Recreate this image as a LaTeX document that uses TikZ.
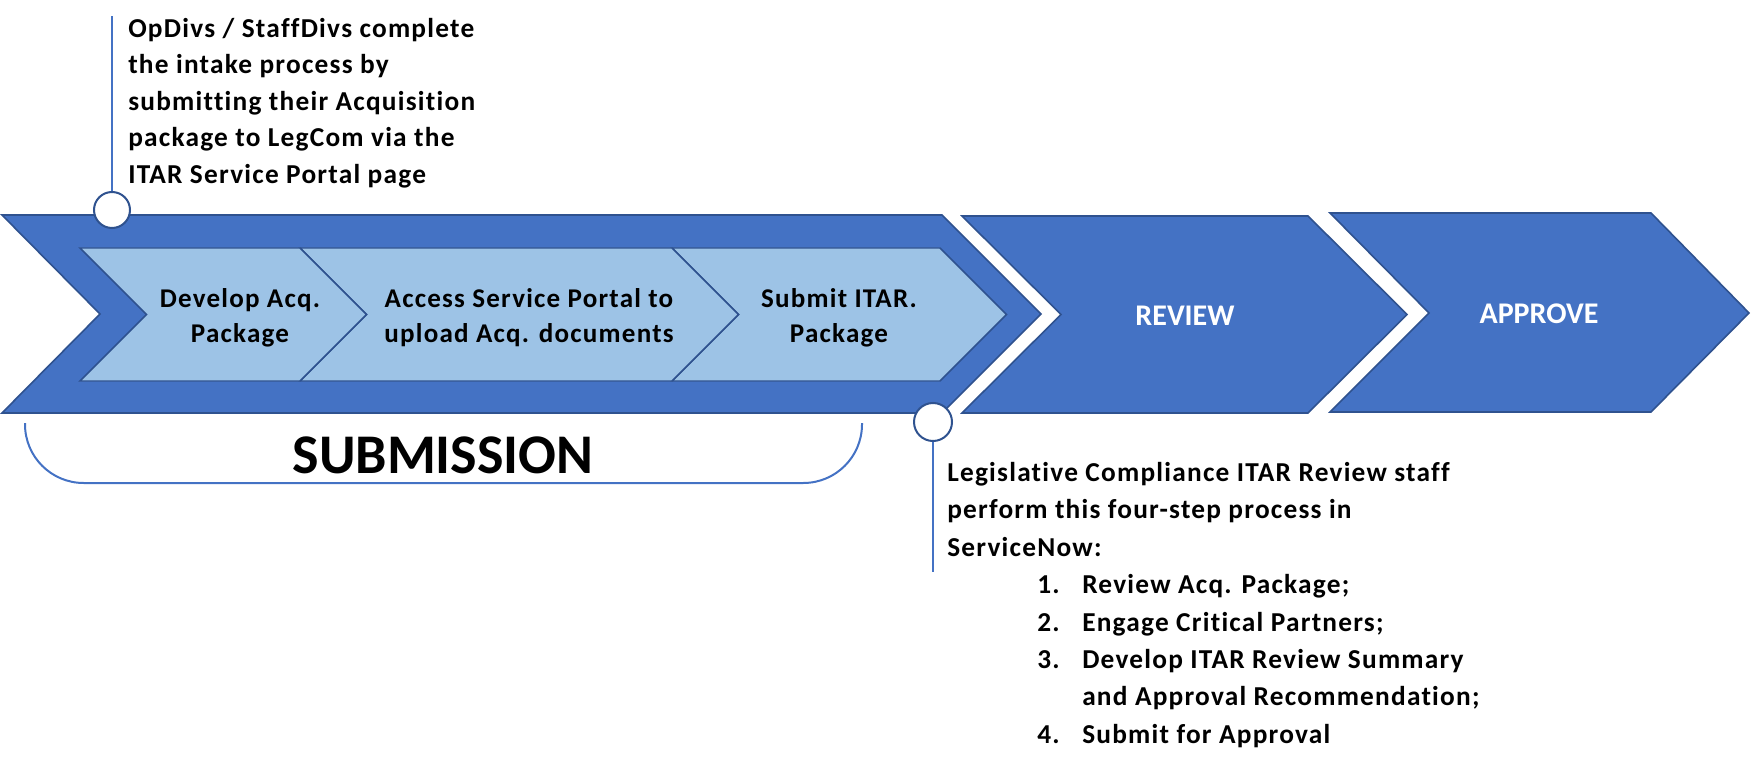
\documentclass[tikz,border=0pt]{standalone}
\usepackage{fontspec}
\setmainfont{Carlito}[Ligatures=NoCommon]
\newfontfamily\spacedfont{Carlito}[Ligatures=NoCommon, LetterSpace=4.5]
\newdimen\pxu \pxu=0.75pt
\definecolor{mainblue}{HTML}{4472C4}
\definecolor{edgeblue}{HTML}{2F528F}
\definecolor{lightblue}{HTML}{9DC3E6}
\tikzset{
  bigchev/.style={fill=mainblue, draw=edgeblue, line width=1.2pt, line join=miter},
  smallchev/.style={fill=lightblue, draw=edgeblue, line width=1.1pt, line join=miter},
  leader/.style={draw=mainblue, line width=1.5pt},
  dotnode/.style={circle, fill=white, draw=edgeblue, line width=1.5pt, minimum size=27pt, inner sep=0pt},
  steptext/.style={align=center, inner sep=0pt, font=\spacedfont\fontsize{20.3pt}{26.25pt}\selectfont\bfseries},
  phasetext/.style={inner sep=0pt, text=white, font=\fontsize{22.5pt}{27pt}\selectfont\bfseries},
  notetext/.style={align=left, inner sep=0pt, anchor=north west}
}
\begin{document}
\begin{tikzpicture}[x=0.75pt, y=-0.75pt]
\useasboundingbox (0,0) rectangle (1751,780);
% outer chevrons
\draw[bigchev] (2,215) -- (942,215) -- (1041,314) -- (942,413) -- (2,413) -- (100,314) -- cycle;
\draw[bigchev] (962,216) -- (1308,216) -- (1407,314.5) -- (1308,413) -- (962,413) -- (1061,314.5) -- cycle;
\draw[bigchev] (1330,213) -- (1651,213) -- (1749,313) -- (1651,412) -- (1330,412) -- (1429,313) -- cycle;
% inner step chevrons
\draw[smallchev] (672,248) -- (940,248) -- (1006.5,314.5) -- (940,381) -- (672,381) -- (738.5,314.5) -- cycle;
\draw[smallchev] (300,248) -- (672,248) -- (738.5,314.5) -- (672,381) -- (300,381) -- (366.5,314.5) -- cycle;
\draw[smallchev] (80,248) -- (300,248) -- (366.5,314.5) -- (300,381) -- (80,381) -- (146.5,314.5) -- cycle;
% step texts
\node[steptext] (s1) at (240,318) {Develop Acq.\\Package};
\node[steptext] (s2) at (529,318) {Access Service Portal to\\upload Acq. documents};
\node[steptext] (s3) at (839,318) {Submit ITAR.\\Package};
\node[phasetext] (rev) at (1185,315.5) {REVIEW};
\node[phasetext] (app) at (1539,314) {APPROVE};
% submission bracket
\coordinate (bl) at (25,423);
\coordinate (br) at (862,423);
\draw[leader, rounded corners=44pt] (bl) -- (25,483) -- (862,483) -- (br);
\node[inner sep=0pt, font=\fontsize{42pt}{48pt}\selectfont\bfseries] (sub) at (443,455.5) {SUBMISSION};
% top note
\node[dotnode] (c1) at (112,210) {};
\coordinate (t1) at (112,16);
\draw[leader] (c1) -- (t1);
\node[notetext, font=\spacedfont\fontsize{20.5pt}{27.4pt}\selectfont\bfseries] (n1) at (128,17.6)
 {OpDivs / StaffDivs complete\\the intake process by\\submitting their Acquisition\\package to LegCom via the\\ITAR Service Portal page};
% bottom note
\node[dotnode, minimum size=28.5pt] (c2) at (933,422) {};
\coordinate (t2) at (933,572);
\draw[leader] (c2) -- (t2);
\node[notetext, font=\spacedfont\fontsize{20.5pt}{28.1pt}\selectfont\bfseries] (n2) at (947,461.7)
 {Legislative Compliance ITAR Review staff\\
  perform this four-step process in\\
  ServiceNow:\\
  \hspace*{90\pxu}\makebox[45\pxu][l]{1.}Review Acq. Package;\\
  \hspace*{90\pxu}\makebox[45\pxu][l]{2.}Engage Critical Partners;\\
  \hspace*{90\pxu}\makebox[45\pxu][l]{3.}Develop ITAR Review Summary\\
  \hspace*{135\pxu}and Approval Recommendation;\\
  \hspace*{90\pxu}\makebox[45\pxu][l]{4.}Submit for Approval};
\end{tikzpicture}
\end{document}
